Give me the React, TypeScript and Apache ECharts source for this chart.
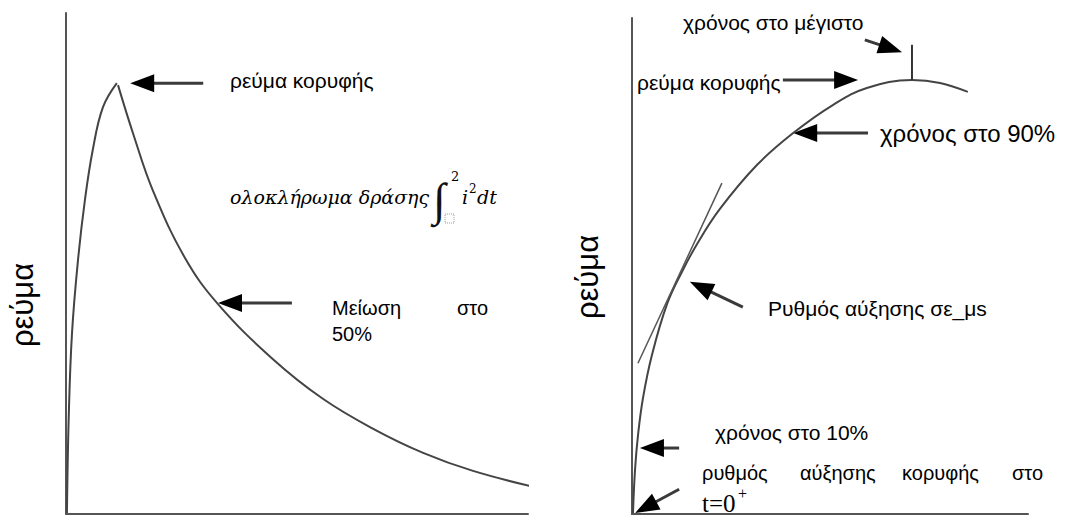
import React, { useEffect, useRef } from "react";
import * as echarts from "echarts";

// Left panel: impulse current (rise then decay), values in % of axis range
const leftRise = [[0.2, 0.2], [0.6, 19.6], [1.3, 36.1], [2.6, 50.7], [4.1, 62.7], [5.8, 72.7], [8.0, 81.2], [11.0, 86.0]];
const leftDecay = [[11.26, 85.6], [14.5, 76.0], [18.83, 64.5], [25.76, 51.1], [32.9, 41.9], [44.8, 30.9], [55.6, 23.0], [66.5, 17.0], [77.3, 12.2], [88.1, 8.6], [102.2, 5.2]];
// Right panel: rising front of the current
const rightCurve = [[0.25, 0.2], [0.76, 8.87], [1.52, 15.9], [2.78, 23.4], [5.05, 32.1], [8.84, 42.3], [12.6, 48.8], [16.4, 54.4], [22.2, 61.5], [31.6, 70.4], [40.7, 76.8], [50.8, 82.5], [59.3, 85.9], [70.7, 87.5], [77.8, 86.9], [84.8, 85.1]];
const tangentLine = [[1.5, 30.4], [22.7, 66.7]];
const peakTick = [[70.7, 87.5], [70.7, 94.6]];
// arrows: [fromX, fromY, toX, toY]
const leftArrows = [[29.7, 86.0, 13.9, 86.0], [48.9, 42.1, 32.9, 42.1]];
const rightArrows = [
  [58.8, 95.6, 68.2, 93.1],
  [38.1, 87.5, 57.1, 87.5],
  [59.6, 76.8, 40.7, 76.8],
  [28.0, 41.7, 14.6, 46.8],
  [11.9, 13.3, 2.0, 13.3],
  [11.9, 5.0, 0.8, 0.2],
];

const SANS = "'Liberation Sans', Arial, sans-serif";
const SERIF = "'DejaVu Serif', serif";
const TIMES = "'Liberation Serif', 'Times New Roman', serif";

const arrowRender = (params: any, api: any) => {
  const a = api.coord([api.value(0), api.value(1)]);
  const b = api.coord([api.value(2), api.value(3)]);
  const dx = b[0] - a[0];
  const dy = b[1] - a[1];
  const len = Math.hypot(dx, dy) || 1;
  const ux = dx / len;
  const uy = dy / len;
  const L = 24;
  const W = 9;
  const base = [b[0] - ux * L, b[1] - uy * L];
  const px = -uy;
  const py = ux;
  return {
    type: "group",
    children: [
      {
        type: "line",
        shape: { x1: a[0], y1: a[1], x2: base[0] + ux * 3, y2: base[1] + uy * 3 },
        style: { stroke: "#3a3a3a", lineWidth: 3 },
      },
      {
        type: "polygon",
        shape: { points: [b, [base[0] + px * W, base[1] + py * W], [base[0] - px * W, base[1] - py * W]] },
        style: { fill: "#000" },
      },
    ],
  };
};

const axisCommon = {
  type: "value",
  min: 0,
  max: 100,
  axisLine: { show: true, lineStyle: { color: "#555", width: 2 } },
  axisTick: { show: false },
  axisLabel: { show: false },
  splitLine: { show: false },
};

const curveStyle = { color: "#444", width: 2 };

const txt = (x: number, y: number, text: string, size = 21, extra: any = {}) => ({
  type: "text",
  x,
  y,
  style: {
    text,
    fontSize: size,
    fontFamily: SANS,
    fill: "#000",
    verticalAlign: "middle",
    align: "left",
    ...extra,
  },
});

export default function App() {
  const ref = useRef<HTMLDivElement>(null);
  useEffect(() => {
    if (!ref.current) return;
    const chart = echarts.init(ref.current, undefined, { renderer: "svg" });
    chart.setOption({
      animation: false,
      backgroundColor: "#fff",
      grid: [
        { left: 66, top: 13, width: 462, height: 501 },
        { left: 632, top: 18, width: 396, height: 496 },
      ],
      xAxis: [
        { ...axisCommon, gridIndex: 0 },
        { ...axisCommon, gridIndex: 1 },
      ],
      yAxis: [
        { ...axisCommon, gridIndex: 0 },
        { ...axisCommon, gridIndex: 1 },
      ],
      series: [
        { type: "line", xAxisIndex: 0, yAxisIndex: 0, data: leftRise, smooth: 0.4, showSymbol: false, symbol: "none", clip: false, lineStyle: curveStyle },
        { type: "line", xAxisIndex: 0, yAxisIndex: 0, data: leftDecay, smooth: 0.4, showSymbol: false, symbol: "none", clip: false, lineStyle: curveStyle },
        { type: "line", xAxisIndex: 1, yAxisIndex: 1, data: rightCurve, smooth: 0.4, showSymbol: false, symbol: "none", clip: false, lineStyle: curveStyle },
        { type: "line", xAxisIndex: 1, yAxisIndex: 1, data: tangentLine, showSymbol: false, symbol: "none", clip: false, lineStyle: { color: "#555", width: 1.5 } },
        { type: "line", xAxisIndex: 1, yAxisIndex: 1, data: peakTick, showSymbol: false, symbol: "none", clip: false, lineStyle: { color: "#333", width: 2 } },
        { type: "custom", xAxisIndex: 0, yAxisIndex: 0, data: leftArrows, renderItem: arrowRender, encode: { x: [0, 2], y: [1, 3] }, clip: false },
        { type: "custom", xAxisIndex: 1, yAxisIndex: 1, data: rightArrows, renderItem: arrowRender, encode: { x: [0, 2], y: [1, 3] }, clip: false },
      ],
      graphic: [
        // y-axis titles
        { type: "text", x: 22, y: 305, rotation: Math.PI / 2, style: { text: "ρεύμα", fontSize: 31, fontFamily: SANS, fill: "#000", align: "center", verticalAlign: "middle" } },
        { type: "text", x: 587, y: 277, rotation: Math.PI / 2, style: { text: "ρεύμα", fontSize: 31, fontFamily: SANS, fill: "#000", align: "center", verticalAlign: "middle" } },
        // left panel annotations
        txt(230, 80, "ρεύμα κορυφής"),
        { type: "text", x: 230, y: 197, style: { text: "ολοκλήρωμα δράσης", fontSize: 19, fontFamily: SERIF, fontStyle: "italic", fill: "#000", verticalAlign: "middle" } },
        { type: "text", x: 433, y: 199, style: { text: "∫", fontSize: 46, fontFamily: TIMES, fill: "#111", verticalAlign: "middle" } },
        { type: "text", x: 451, y: 176, style: { text: "2", fontSize: 13, fontFamily: SERIF, fill: "#000", verticalAlign: "middle" } },
        { type: "rect", shape: { x: 445, y: 214, width: 9, height: 9 }, style: { fill: "none", stroke: "#999", lineWidth: 1, lineDash: [1, 1] } },
        { type: "text", x: 462, y: 197, style: { text: "i", fontSize: 19, fontFamily: SERIF, fontStyle: "italic", fill: "#000", verticalAlign: "middle" } },
        { type: "text", x: 469, y: 189, style: { text: "2", fontSize: 12, fontFamily: SERIF, fill: "#000", verticalAlign: "middle" } },
        { type: "text", x: 477, y: 197, style: { text: "dt", fontSize: 19, fontFamily: SERIF, fontStyle: "italic", fill: "#000", verticalAlign: "middle" } },
        txt(332, 308, "Μείωση", 20),
        txt(457, 308, "στο", 20),
        txt(332, 334, "50%", 20),
        // right panel annotations
        txt(683, 22, "χρόνος στο μέγιστο"),
        txt(637, 82, "ρεύμα κορυφής"),
        txt(880, 133, "χρόνος στο 90%", 24),
        txt(768, 308, "Ρυθμός αύξησης σε_μs"),
        txt(715, 432, "χρόνος στο 10%"),
        txt(702, 473, "ρυθμός", 20),
        txt(800, 473, "αύξησης", 20),
        txt(902, 473, "κορυφής", 20),
        txt(1012, 473, "στο", 20),
        { type: "text", x: 702, y: 503, style: { text: "t=0", fontSize: 25, fontFamily: TIMES, fill: "#000", verticalAlign: "middle" } },
        { type: "text", x: 738, y: 493, style: { text: "+", fontSize: 16, fontFamily: TIMES, fill: "#000", verticalAlign: "middle" } },
      ],
    });
    return () => chart.dispose();
  }, []);
  return <div ref={ref} style={{ position: "absolute", left: 0, top: 0, width: 1072, height: 516 }} />;
}
